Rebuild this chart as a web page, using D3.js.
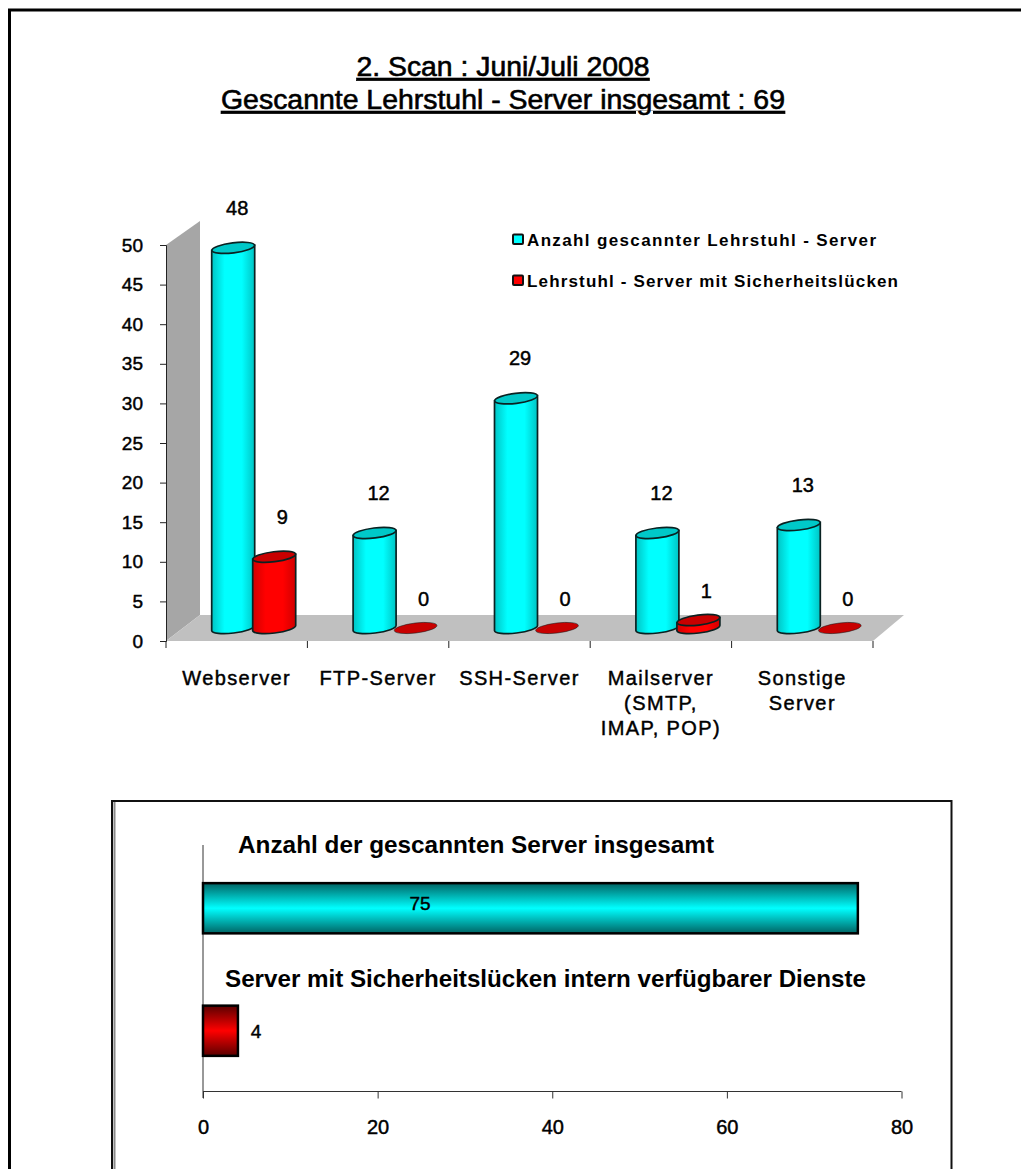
<!DOCTYPE html>
<html>
<head>
<meta charset="utf-8">
<script src="https://cdnjs.cloudflare.com/ajax/libs/d3/7.8.5/d3.min.js"></script>
<style>
  html, body { margin: 0; padding: 0; background: #fff; }
  svg { display: block; }
  text { font-family: "Liberation Sans", Arial, sans-serif; fill: #000; }
  .soft { stroke: #000; stroke-width: 0.45px; }
</style>
</head>
<body>
<div id="vis"></div>
<script>
// Werte
var titleLines = ['2. Scan : Juni/Juli 2008', 'Gescannte Lehrstuhl - Server insgesamt : 69'];
var categories = ['Webserver', 'FTP-Server', 'SSH-Server', 'Mailserver', 'Sonstige'];
var categoryLines = [['Webserver'], ['FTP-Server'], ['SSH-Server'], ['Mailserver', '(SMTP,', 'IMAP, POP)'], ['Sonstige', 'Server']];
var seriesNames = ['Anzahl gescannter Lehrstuhl - Server', 'Lehrstuhl - Server mit Sicherheitslücken'];
var scanned = [48, 12, 29, 12, 13];
var vulnerable = [9, 0, 0, 1, 0];
var yTicks = [0, 5, 10, 15, 20, 25, 30, 35, 40, 45, 50];

var totalNames = ['Anzahl der gescannten Server insgesamt', 'Server mit Sicherheitslücken intern verfügbarer Dienste'];
var totalValues = [75, 4];
var xTicks = [0, 20, 40, 60, 80];

var width = 1021;
var height = 1169;

var svg = d3.select('#vis').append('svg')
  .attr('width', width)
  .attr('height', height);

var defs = svg.append('defs');

function cylinderGradient(id, edge, mid) {
  var g = defs.append('linearGradient').attr('id', id)
    .attr('x1', 0).attr('x2', 1).attr('y1', 0).attr('y2', 0);
  g.append('stop').attr('offset', '0%').attr('stop-color', edge);
  g.append('stop').attr('offset', '30%').attr('stop-color', mid);
  g.append('stop').attr('offset', '70%').attr('stop-color', mid);
  g.append('stop').attr('offset', '100%').attr('stop-color', edge);
}

function barGradient(id, edge, mid) {
  var g = defs.append('linearGradient').attr('id', id)
    .attr('x1', 0).attr('x2', 0).attr('y1', 0).attr('y2', 1);
  g.append('stop').attr('offset', '0%').attr('stop-color', edge);
  g.append('stop').attr('offset', '50%').attr('stop-color', mid);
  g.append('stop').attr('offset', '100%').attr('stop-color', edge);
}

cylinderGradient('cylCyan', '#00c4c4', '#00ffff');
cylinderGradient('cylRed', '#d00000', '#ff0000');
barGradient('barCyan', '#006464', '#00ffff');
barGradient('barRed', '#5a0000', '#ff0000');

// Rahmen (rechts und unten laeuft er aus dem Bild)
svg.append('path')
  .attr('d', 'M9.5,1169V10H1021')
  .attr('fill', 'none')
  .attr('stroke', '#000')
  .attr('stroke-width', 3);

// Titel
var titleWidths = [293, 564];
svg.selectAll('.title')
  .data(titleLines)
  .enter().append('text')
  .attr('class', 'title')
  .attr('x', 503)
  .attr('y', function (d, i) { return 76 + i * 33; })
  .attr('text-anchor', 'middle')
  .attr('font-size', 27)
  .attr('stroke', '#000')
  .attr('stroke-width', 0.6)
  .attr('textLength', function (d, i) { return titleWidths[i]; })
  .attr('lengthAdjust', 'spacingAndGlyphs')
  .attr('text-decoration', 'underline')
  .text(function (d) { return d; });

// ---- oberes Diagramm ----
var depthX = 34;
var depthY = 26;
var baseShift = 13; // Saeulen stehen mitten auf dem Boden

var y = d3.scaleLinear().domain([0, 50]).range([641, 245]);
var x0 = d3.scaleBand().domain(categories).range([166, 873]);
var x1 = d3.scaleBand().domain(seriesNames).range([0, 82]);
var barW = 43;

// Wand und Boden
svg.append('polygon')
  .attr('points', [[166, y(50)], [166 + depthX, y(50) - depthY + 2], [166 + depthX, y(0) - depthY], [166, y(0)]].join(' '))
  .attr('fill', '#a6a6a6');
svg.append('polygon')
  .attr('points', [[166, y(0)], [166 + depthX, y(0) - depthY], [873 + 31, y(0) - depthY], [873, y(0)]].join(' '))
  .attr('fill', '#c0c0c0');

var yAxis = svg.append('g')
  .attr('transform', 'translate(166,0)')
  .call(d3.axisLeft(y).tickValues(yTicks).tickSize(6).tickPadding(17));
yAxis.selectAll('path, line').attr('stroke', '#222').attr('stroke-width', 1);
yAxis.selectAll('text')
  .attr('class', 'soft')
  .attr('font-size', 19)
  .attr('font-family', null);

// Kategorie-Striche an den Bandgrenzen
var edges = categories.map(function (c) { return x0(c); }).concat([x0.range()[1]]);
svg.selectAll('.catTick')
  .data(edges)
  .enter().append('line')
  .attr('class', 'catTick')
  .attr('x1', function (d) { return d; })
  .attr('x2', function (d) { return d; })
  .attr('y1', y(0))
  .attr('y2', y(0) + 7)
  .attr('stroke', '#222');

var catLabels = svg.selectAll('.catLabel')
  .data(categories)
  .enter().append('text')
  .attr('class', 'catLabel soft')
  .attr('text-anchor', 'middle')
  .attr('font-size', 20)
  .attr('letter-spacing', 1.4);

catLabels.selectAll('tspan')
  .data(function (d, i) {
    return categoryLines[i].map(function (t) { return { text: t, cat: d }; });
  })
  .enter().append('tspan')
  .attr('x', function (d) { return x0(d.cat) + x0.bandwidth() / 2; })
  .attr('y', function (d, i) { return 685 + i * 25; })
  .text(function (d) { return d.text; });

// Saeule als liegende Ellipse oben und unten
var tilt = -7;
var rx = barW / 2;
var ry = 5;
var dyEnd = Math.sin(-tilt * Math.PI / 180) * rx;

function cylinderBody(left, top, bottom) {
  var right = left + barW;
  return 'M' + left + ',' + (top + dyEnd) +
    'L' + left + ',' + (bottom + dyEnd) +
    'A' + rx + ',' + ry + ' ' + tilt + ' 0 0 ' + right + ',' + (bottom - dyEnd) +
    'L' + right + ',' + (top - dyEnd) + 'Z';
}

function drawSeries(values, name, bodyFill, topFill) {
  var rows = categories.map(function (c, i) { return { cat: c, value: values[i] }; });
  var g = svg.append('g');

  g.selectAll('.body')
    .data(rows.filter(function (d) { return d.value > 0; }))
    .enter().append('path')
    .attr('d', function (d) {
      var left = x0(d.cat) + x0.bandwidth() / 2 - 25 + x1(name);
      return cylinderBody(left, y(d.value) - baseShift, y(0) - baseShift);
    })
    .attr('fill', bodyFill)
    .attr('stroke', '#0a2222')
    .attr('stroke-width', 1.7);

  g.selectAll('.top')
    .data(rows)
    .enter().append('ellipse')
    .attr('rx', rx)
    .attr('ry', ry)
    .attr('transform', function (d) {
      var cx = x0(d.cat) + x0.bandwidth() / 2 - 25 + x1(name) + rx;
      return 'translate(' + cx + ',' + (y(d.value) - baseShift) + ') rotate(' + tilt + ')';
    })
    .attr('fill', topFill)
    .attr('stroke', '#0a2222')
    .attr('stroke-width', function (d) { return d.value > 0 ? 1.7 : 0.5; });

  svg.selectAll('.val' + name.length)
    .data(rows)
    .enter().append('text')
    .attr('class', 'soft')
    .attr('x', function (d) {
      return x0(d.cat) + x0.bandwidth() / 2 - 25 + x1(name) + rx + (name === seriesNames[0] ? 4 : 8);
    })
    .attr('y', function (d) { return y(d.value) - baseShift - (d.value < 2 ? 29 : 40) + 7; })
    .attr('text-anchor', 'middle')
    .attr('font-size', 20)
    .text(function (d) { return d.value; });
}

drawSeries(scanned, seriesNames[0], 'url(#cylCyan)', '#00c8c8');
drawSeries(vulnerable, seriesNames[1], 'url(#cylRed)', '#c80000');

// Legende
var legendColors = ['#00ffff', '#ff0000'];
var legendWidths = [349, 371];
var legend = svg.selectAll('.legend')
  .data(seriesNames)
  .enter().append('g')
  .attr('class', 'legend')
  .attr('transform', function (d, i) { return 'translate(0,' + (i * 41) + ')'; });
legend.append('rect')
  .attr('x', 513)
  .attr('y', 234.5)
  .attr('width', 10)
  .attr('height', 9.5)
  .attr('rx', 1)
  .attr('fill', function (d, i) { return legendColors[i]; })
  .attr('stroke', '#111')
  .attr('stroke-width', 2);
legend.append('text')
  .attr('x', 527)
  .attr('y', 246)
  .attr('font-size', 17)
  .attr('font-weight', 'bold')
  .attr('textLength', function (d, i) { return legendWidths[i]; })
  .attr('lengthAdjust', 'spacing')
  .text(function (d) { return d; });

// ---- unteres Diagramm ----
svg.append('path')
  .attr('d', 'M112,1169V801H951.5V1169')
  .attr('fill', 'none')
  .attr('stroke', '#111')
  .attr('stroke-width', 2);
svg.append('line')
  .attr('x1', 114.5).attr('x2', 114.5)
  .attr('y1', 802).attr('y2', 1169)
  .attr('stroke', '#8a8a8a')
  .attr('stroke-width', 2);

var xb = d3.scaleLinear().domain([0, 80]).range([203, 901.5]);
var yb = d3.scaleBand().domain(totalNames).range([847, 1092])
  .paddingInner(0.59).paddingOuter(0.295);

var xAxis = svg.append('g')
  .attr('transform', 'translate(0,1091.5)')
  .call(d3.axisBottom(xb).tickValues(xTicks).tickSize(7).tickPadding(21));
xAxis.select('.domain').attr('stroke', '#333').attr('d', 'M203,0H901.5');
xAxis.selectAll('line').attr('stroke', '#333');
xAxis.selectAll('text')
  .attr('class', 'soft')
  .attr('font-size', 20)
  .attr('font-family', null);

svg.append('line')
  .attr('x1', 203).attr('x2', 203)
  .attr('y1', 845).attr('y2', 1098)
  .attr('stroke', '#333');

var barFills = ['url(#barCyan)', 'url(#barRed)'];
svg.selectAll('.totalBar')
  .data(totalValues)
  .enter().append('rect')
  .attr('class', 'totalBar')
  .attr('x', xb(0))
  .attr('y', function (d, i) { return yb(totalNames[i]); })
  .attr('width', function (d) { return xb(d) - xb(0); })
  .attr('height', yb.bandwidth())
  .attr('fill', function (d, i) { return barFills[i]; })
  .attr('stroke', '#000')
  .attr('stroke-width', 2.5);

// Zahlen an den Balken
var totalLabelX = [420, 256];
var totalLabelY = [910, 1038];
svg.selectAll('.totalVal')
  .data(totalValues)
  .enter().append('text')
  .attr('class', 'soft')
  .attr('x', function (d, i) { return totalLabelX[i]; })
  .attr('y', function (d, i) { return totalLabelY[i]; })
  .attr('text-anchor', 'middle')
  .attr('font-size', 19)
  .text(function (d) { return d; });

// Balkennamen stehen ueber den Balken
var nameStart = [238, 225];
var nameBase = [853, 987];
var nameWidths = [476, 641];
svg.selectAll('.totalName')
  .data(totalNames)
  .enter().append('text')
  .attr('x', function (d, i) { return nameStart[i]; })
  .attr('y', function (d, i) { return nameBase[i]; })
  .attr('font-size', 24)
  .attr('font-weight', 'bold')
  .attr('textLength', function (d, i) { return nameWidths[i]; })
  .attr('lengthAdjust', 'spacingAndGlyphs')
  .text(function (d) { return d; });
</script>
</body>
</html>
